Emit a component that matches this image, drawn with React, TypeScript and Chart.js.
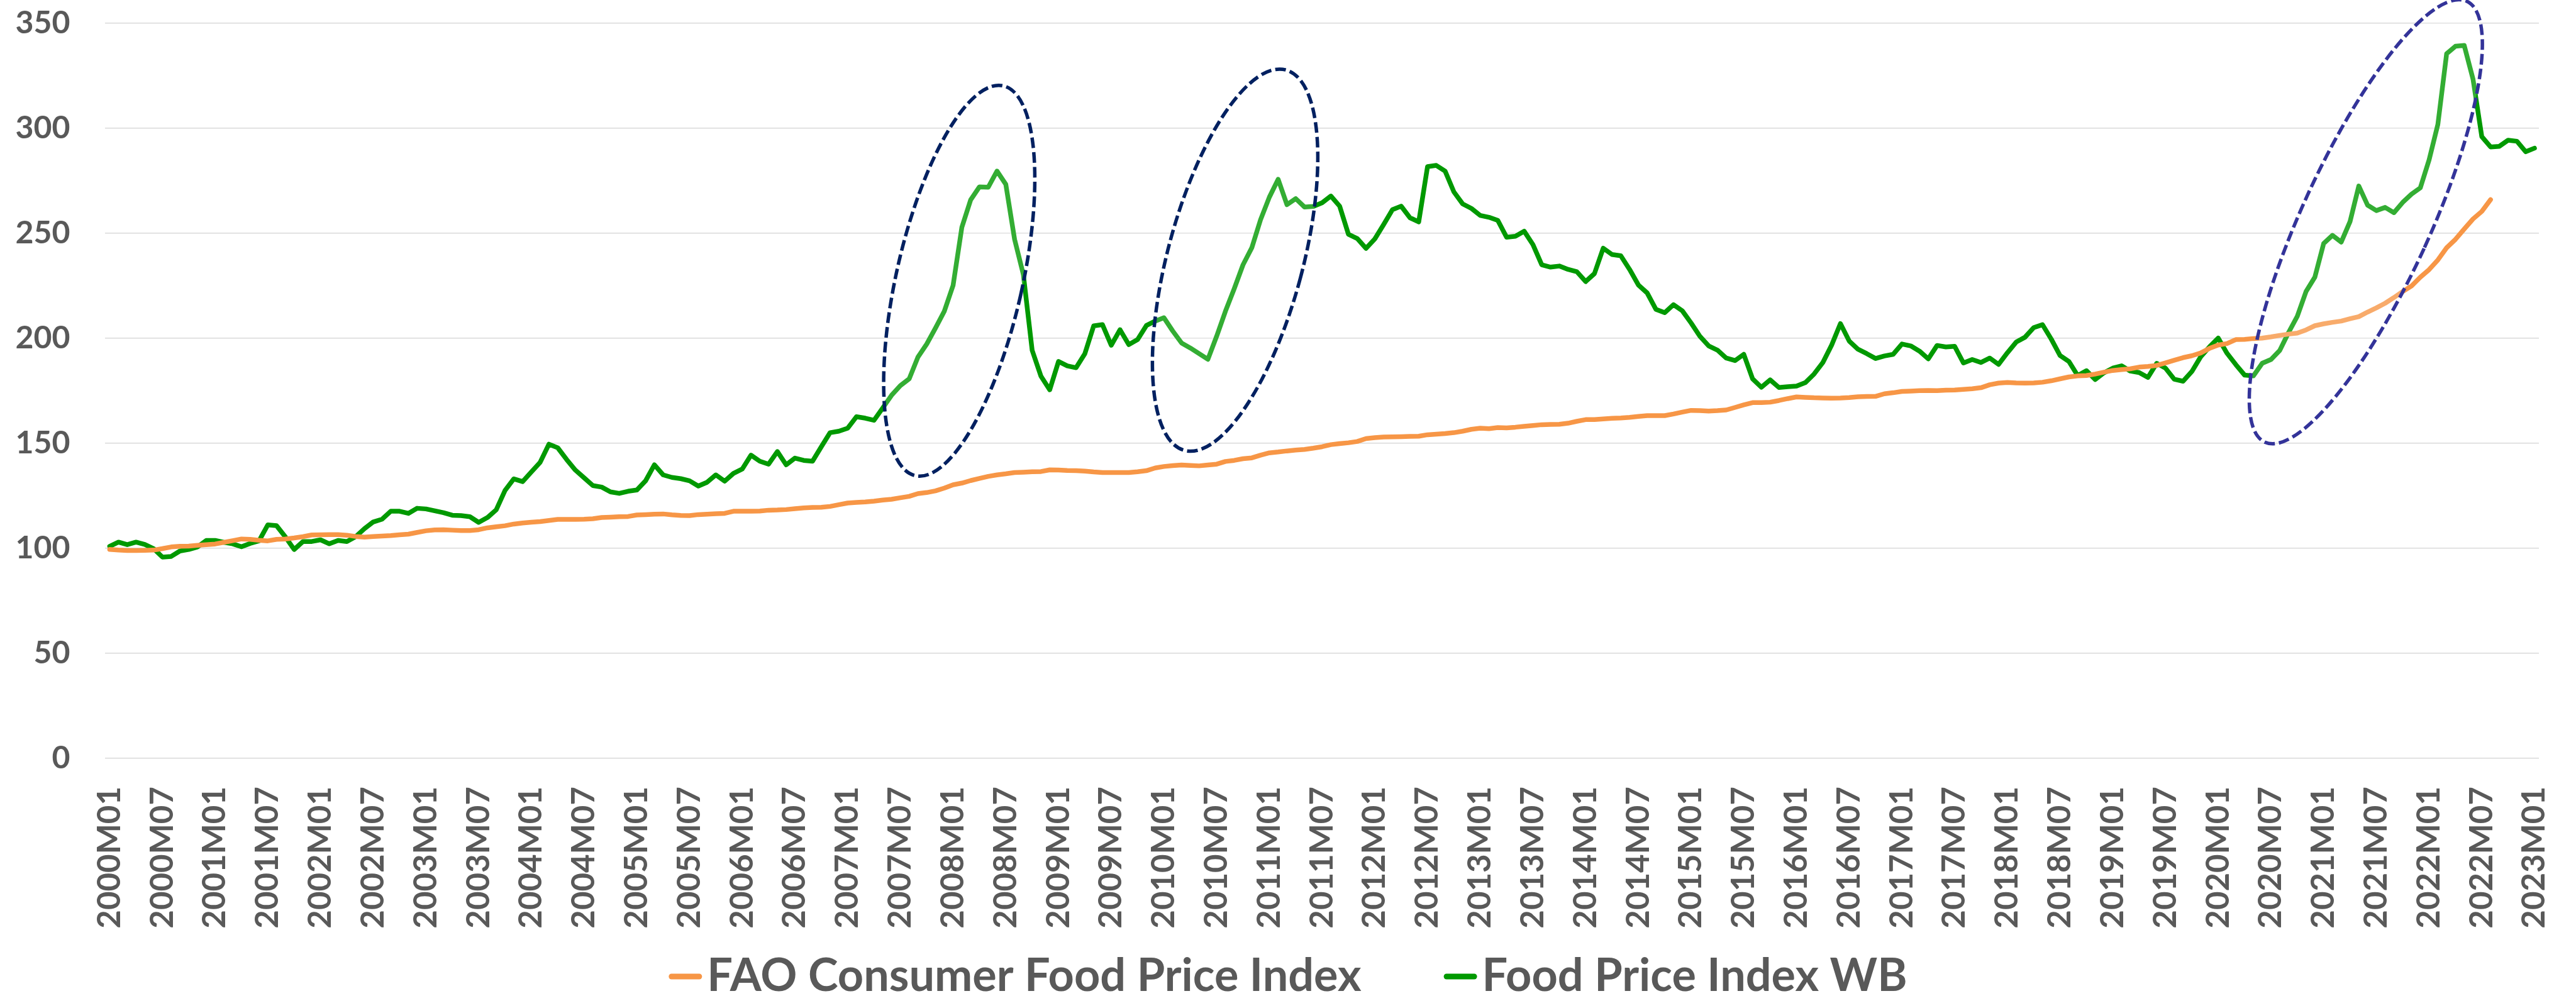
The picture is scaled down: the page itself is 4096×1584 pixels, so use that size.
import React, { useEffect, useRef } from "react";
import { Chart, registerables } from "chart.js";

Chart.register(...registerables);

// ---------- categories ----------
const FIRST_YEAR = 2000;
const LAST_YEAR = 2023;
const MONTHS: string[] = [];
for (let y = FIRST_YEAR; y <= LAST_YEAR; y++) {
  for (let m = 1; m <= 12; m++) {
    if (y === LAST_YEAR && m > 1) break;
    MONTHS.push(`${y}M${String(m).padStart(2, "0")}`);
  }
}
const LABEL_EVERY = 6;

// ---------- series ----------
const FAO_CONSUMER_FOOD_PRICE_INDEX: (number | null)[] = [
  99.4, 99.1, 98.9, 98.9, 99.0, 99.1, 99.8, 100.6, 100.9, 101.0,
  101.4, 101.7, 102.0, 102.8, 103.6, 104.4, 104.2, 103.8, 103.5, 104.2,
  104.4, 104.9, 105.5, 106.3, 106.4, 106.5, 106.5, 106.2, 105.6, 105.3,
  105.6, 105.8, 106.0, 106.4, 106.7, 107.5, 108.3, 108.7, 108.8, 108.6,
  108.4, 108.4, 108.8, 109.7, 110.2, 110.7, 111.5, 112.0, 112.4, 112.7,
  113.2, 113.7, 113.7, 113.7, 113.8, 114.0, 114.6, 114.8, 115.0, 115.1,
  115.8, 116.0, 116.2, 116.3, 115.9, 115.6, 115.5, 116.0, 116.2, 116.4,
  116.6, 117.6, 117.6, 117.6, 117.7, 118.1, 118.2, 118.4, 118.8, 119.2,
  119.4, 119.5, 119.9, 120.7, 121.5, 121.8, 122.0, 122.4, 122.9, 123.3,
  124.0, 124.7, 126.0, 126.5, 127.3, 128.6, 130.2, 131.0, 132.2, 133.2,
  134.2, 134.9, 135.4, 136.0, 136.2, 136.4, 136.5, 137.3, 137.2, 137.0,
  136.9, 136.7, 136.3, 136.0, 136.0, 136.0, 136.0, 136.4, 136.9, 138.2,
  138.9, 139.3, 139.6, 139.4, 139.2, 139.6, 140.0, 141.3, 141.8, 142.6,
  143.0, 144.3, 145.4, 145.8, 146.3, 146.7, 147.0, 147.6, 148.3, 149.3,
  149.8, 150.2, 150.8, 152.2, 152.6, 152.9, 153.0, 153.1, 153.2, 153.3,
  154.0, 154.3, 154.6, 155.0, 155.7, 156.6, 157.1, 156.9, 157.4, 157.3,
  157.6, 158.0, 158.4, 158.8, 158.9, 159.0, 159.5, 160.4, 161.2, 161.2,
  161.5, 161.8, 162.0, 162.3, 162.7, 163.1, 163.1, 163.1, 163.9, 164.8,
  165.6, 165.5, 165.3, 165.5, 165.8, 167.0, 168.2, 169.3, 169.3, 169.5,
  170.3, 171.2, 172.0, 171.8, 171.6, 171.5, 171.4, 171.5, 171.7, 172.1,
  172.2, 172.3, 173.5, 174.0, 174.6, 174.8, 175.0, 175.1, 175.0, 175.2,
  175.3, 175.6, 175.9, 176.4, 177.8, 178.6, 178.9, 178.7, 178.6, 178.7,
  179.0, 179.7, 180.6, 181.5, 182.0, 182.2, 182.9, 183.8, 184.6, 185.0,
  185.4, 186.2, 186.5, 187.0, 188.2, 189.5, 190.7, 191.6, 192.9, 195.1,
  196.7, 197.4, 199.3, 199.4, 199.8, 200.0, 200.6, 201.3, 201.9, 202.4,
  203.9, 205.9, 206.8, 207.5, 208.1, 209.2, 210.2, 212.4, 214.4, 216.6,
  219.3, 222.2, 224.8, 229.0, 232.6, 237.2, 243.0, 247.0, 251.9, 256.7,
  260.3, 265.9, null, null, null, null, null,
];

const FOOD_PRICE_INDEX_WB: number[] = [
  100.9, 102.9, 101.7, 102.9, 101.8, 99.8, 95.8, 96.1, 98.7, 99.4,
  100.6, 103.7, 103.7, 102.8, 102.1, 100.7, 102.3, 103.5, 111.1, 110.7,
  105.4, 99.4, 103.2, 103.2, 104.0, 102.1, 103.7, 103.2, 105.5, 109.3,
  112.5, 113.8, 117.6, 117.6, 116.6, 119.0, 118.7, 117.8, 116.9, 115.7,
  115.5, 115.0, 112.3, 114.6, 118.3, 127.5, 133.0, 131.7, 136.3, 140.9,
  149.5, 147.8, 142.3, 137.2, 133.5, 129.8, 129.1, 126.8, 126.1, 127.1,
  127.7, 132.1, 139.7, 134.9, 133.7, 133.1, 132.1, 129.6, 131.4, 134.9,
  131.9, 135.6, 137.7, 144.3, 141.4, 140.0, 146.0, 139.7, 142.9, 141.8,
  141.4, 148.3, 155.0, 155.7, 157.1, 162.6, 161.9, 160.9, 166.8, 172.8,
  177.4, 180.6, 191.0, 197.2, 204.8, 212.8, 225.1, 252.8, 265.8, 272.0,
  271.8, 279.5, 273.2, 247.0, 230.2, 194.2, 181.9, 175.4, 188.9, 186.8,
  185.9, 192.6, 205.8, 206.4, 196.6, 204.0, 196.9, 199.3, 206.0, 208.1,
  209.7, 203.4, 197.7, 195.3, 192.6, 189.9, 200.9, 212.8, 223.5, 234.9,
  243.0, 256.4, 267.1, 275.6, 263.5, 266.4, 262.4, 262.7, 264.4, 267.6,
  262.8, 249.4, 247.4, 242.7, 247.2, 254.0, 261.1, 262.8, 257.3, 255.3,
  281.6, 282.2, 279.5, 269.6, 263.9, 261.7, 258.4, 257.5, 256.0, 248.0,
  248.5, 250.9, 244.5, 234.9, 233.8, 234.3, 232.7, 231.6, 226.9, 230.7,
  242.8, 239.8, 239.2, 232.7, 225.3, 221.5, 213.7, 212.1, 215.9, 213.0,
  207.2, 200.9, 196.3, 194.3, 190.5, 189.3, 192.3, 180.6, 176.6, 180.1,
  176.5, 176.9, 177.2, 178.8, 182.9, 188.4, 196.7, 206.9, 198.6, 194.7,
  192.6, 190.3, 191.5, 192.3, 197.2, 196.3, 193.8, 190.1, 196.5, 195.8,
  196.1, 188.2, 189.8, 188.4, 190.5, 187.5, 193.0, 198.1, 200.4, 205.0,
  206.4, 199.5, 191.7, 188.9, 182.2, 184.5, 180.3, 183.5, 185.7, 186.8,
  184.3, 183.6, 181.3, 188.0, 185.7, 180.4, 179.5, 184.1, 191.1, 195.8,
  200.0, 192.8, 187.4, 182.4, 182.0, 188.0, 189.8, 194.1, 202.6, 210.4,
  222.2, 229.0, 245.0, 248.9, 245.7, 255.4, 272.4, 263.3, 260.7, 262.2,
  259.7, 264.6, 268.5, 271.5, 284.8, 301.7, 335.4, 338.9, 339.3, 323.3,
  295.9, 291.0, 291.3, 294.2, 293.7, 288.7, 290.4,
];

const SERIES_NAMES = ["FAO Consumer Food Price Index", "Food Price Index WB"];
const SERIES_COLORS = ["#F79646", "#009900"];

// ---------- y axis ----------
const Y_MIN = 0;
const Y_MAX = 350;
const Y_STEP = 50;

// ---------- highlight ellipses (centre in month index / index value, radii in index units) ----------
const HIGHLIGHTS = [
  { month: 96.7, value: 227.3, major: 95.1, minor: 30.0, tiltDeg: 12.7, color: "#002060" },
  { month: 128.1, value: 237.1, major: 93.7, minor: 32.2, tiltDeg: 14.9, color: "#002060" },
  { month: 256.8, value: 255.4, major: 115.4, minor: 30.5, tiltDeg: 24.6, color: "#333399" },
];

const TEXT_COLOR = "#595959";
const FONT = "Lato, 'Open Sans', 'DejaVu Sans', sans-serif";

const ellipsePlugin = {
  id: "highlightEllipses",
  afterDatasetsDraw(chart: any) {
    const { ctx, scales } = chart;
    const xs = scales.x;
    const ys = scales.y;
    const unit = ys.getPixelForValue(0) - ys.getPixelForValue(1);
    ctx.save();
    for (const h of HIGHLIGHTS) {
      const cx = xs.getPixelForValue(h.month);
      const cy = ys.getPixelForValue(h.value);
      ctx.beginPath();
      ctx.ellipse(cx, cy, h.minor * unit, h.major * unit, (h.tiltDeg * Math.PI) / 180, 0, Math.PI * 2);
      ctx.fillStyle = "rgba(255,255,255,0.2)";
      ctx.fill();
      ctx.setLineDash([17, 6.5]);
      ctx.lineWidth = 5.5;
      ctx.strokeStyle = h.color;
      ctx.stroke();
    }
    ctx.restore();
  },
};

const legendPlugin = {
  id: "bottomLegend",
  afterDraw(chart: any) {
    const { ctx } = chart;
    ctx.save();
    ctx.font = `bold 72px ${FONT}`;
    const markerW = 53;
    const markerGap = 8;
    const itemGap = 131;
    const widths = SERIES_NAMES.map((t) => ctx.measureText(t).width);
    const total =
      widths.reduce((a, b) => a + b, 0) + SERIES_NAMES.length * (markerW + markerGap) + itemGap * (SERIES_NAMES.length - 1);
    let x = (chart.width - total) / 2;
    const baseline = chart.height - 8;
    const markerY = baseline - 23;
    SERIES_NAMES.forEach((name, i) => {
      ctx.strokeStyle = SERIES_COLORS[i];
      ctx.lineWidth = 9;
      ctx.lineCap = "round";
      ctx.beginPath();
      ctx.moveTo(x + 4.5, markerY);
      ctx.lineTo(x + markerW - 4.5, markerY);
      ctx.stroke();
      x += markerW + markerGap;
      ctx.fillStyle = TEXT_COLOR;
      ctx.textBaseline = "alphabetic";
      ctx.textAlign = "left";
      ctx.fillText(name, x, baseline);
      x += widths[i] + itemGap;
    });
    ctx.restore();
  },
};

export default function App() {
  const canvasRef = useRef<HTMLCanvasElement | null>(null);

  useEffect(() => {
    const canvas = canvasRef.current;
    if (!canvas) return;
    const chart = new Chart(canvas, {
      type: "line",
      data: {
        labels: MONTHS,
        datasets: [
          {
            label: SERIES_NAMES[0],
            data: FAO_CONSUMER_FOOD_PRICE_INDEX,
            borderColor: SERIES_COLORS[0],
            backgroundColor: SERIES_COLORS[0],
            borderWidth: 7.5,
            pointRadius: 0,
            borderJoinStyle: "round",
            borderCapStyle: "round",
            tension: 0,
            spanGaps: false,
          },
          {
            label: SERIES_NAMES[1],
            data: FOOD_PRICE_INDEX_WB,
            borderColor: SERIES_COLORS[1],
            backgroundColor: SERIES_COLORS[1],
            borderWidth: 7.5,
            pointRadius: 0,
            borderJoinStyle: "round",
            borderCapStyle: "round",
            tension: 0,
          },
        ],
      },
      options: {
        responsive: false,
        animation: false,
        events: [],
        layout: { padding: { top: 36.5, right: 59, bottom: 98, left: 0 } },
        plugins: {
          legend: { display: false },
          tooltip: { enabled: false },
          title: { display: false },
        },
        scales: {
          x: {
            type: "category",
            offset: true,
            grid: { display: false, drawTicks: false },
            border: { display: false },
            ticks: {
              autoSkip: false,
              maxRotation: 90,
              minRotation: 90,
              padding: 45,
              color: TEXT_COLOR,
              font: { family: FONT, size: 51, weight: "bold" },
              callback: (_v: any, idx: number) => (idx % LABEL_EVERY === 0 ? MONTHS[idx] : null),
            },
            afterFit: (scale: any) => {
              scale.height = 280;
              scale.paddingLeft = 0;
              scale.paddingRight = 0;
            },
          },
          y: {
            min: Y_MIN,
            max: Y_MAX,
            grid: { color: "#D9D9D9", lineWidth: 1.6, drawTicks: false },
            border: { display: false },
            ticks: {
              stepSize: Y_STEP,
              padding: 56,
              color: TEXT_COLOR,
              font: { family: FONT, size: 50, weight: "bold" },
            },
            afterFit: (scale: any) => {
              scale.width = 167.4;
              scale.paddingTop = 0;
              scale.paddingBottom = 0;
            },
          },
        },
      },
      plugins: [ellipsePlugin, legendPlugin],
    });
    return () => chart.destroy();
  }, []);

  return (
    <div style={{ position: "fixed", left: 0, top: 0, width: 4096, height: 1584, background: "#fff" }}>
      <canvas ref={canvasRef} width={4096} height={1584} style={{ display: "block" }} />
    </div>
  );
}
